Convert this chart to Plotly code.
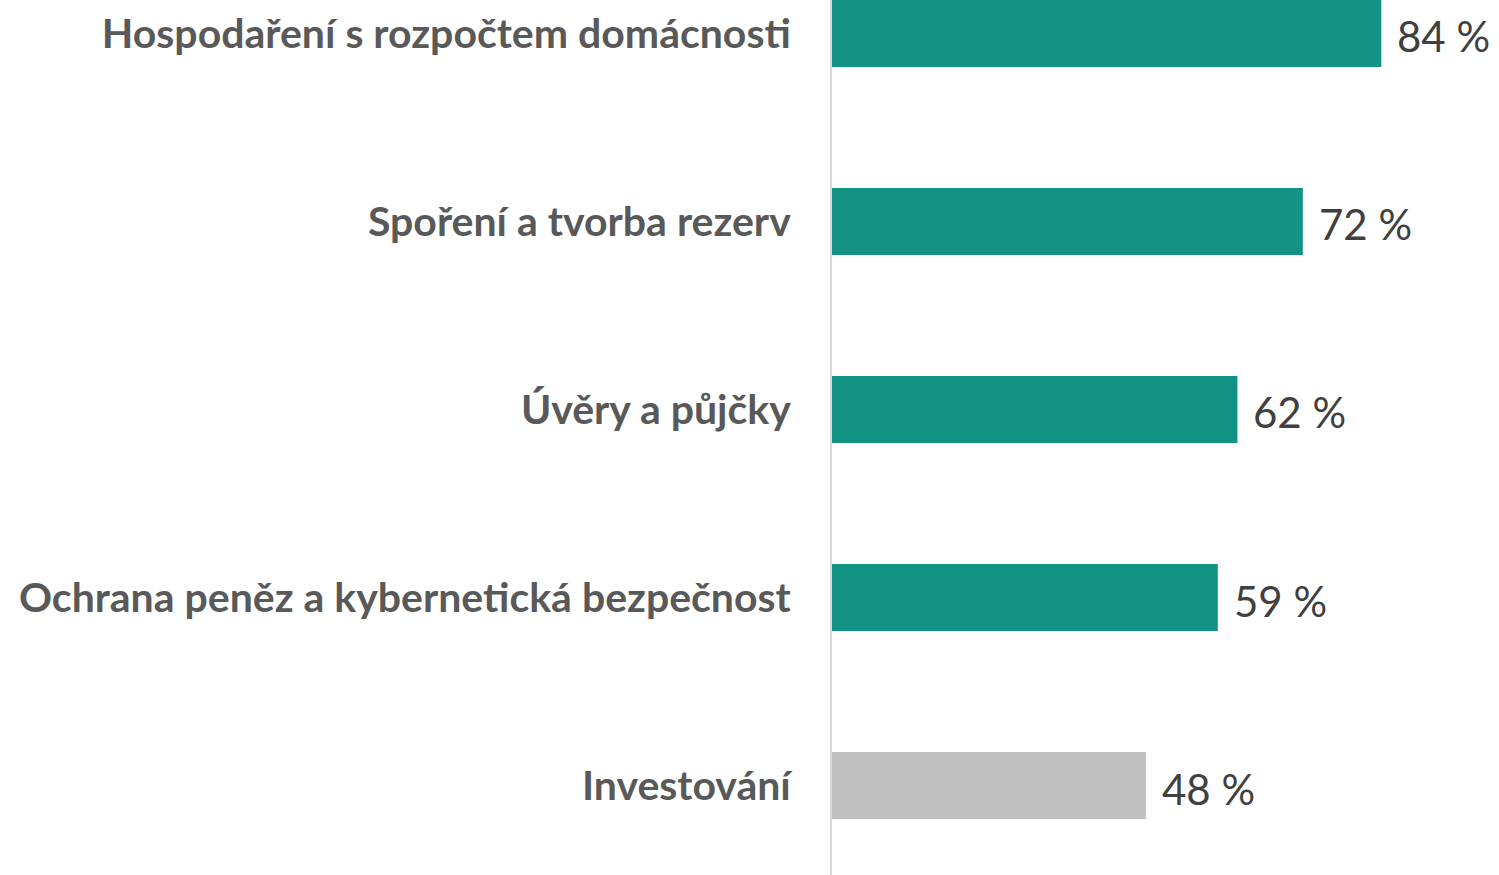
import plotly.graph_objects as go

categories = [
    "Hospodaření s rozpočtem domácnosti",
    "Spoření a tvorba rezerv",
    "Úvěry a půjčky",
    "Ochrana peněz a kybernetická bezpečnost",
    "Investování",
]
values = [84, 72, 62, 59, 48]
bar_colors = ["#139383", "#139383", "#139383", "#139383", "#BFBFBF"]

fig = go.Figure()

fig.add_trace(go.Bar(
    x=values,
    y=categories,
    orientation="h",
    marker=dict(color=bar_colors, line=dict(width=0)),
    width=0.356,
    cliponaxis=False,
    hoverinfo="none",
))

# value labels to the right of each bar
for cat, val in zip(categories, values):
    fig.add_annotation(
        x=val, y=cat,
        text=f"{val} %",
        showarrow=False,
        xanchor="left",
        yanchor="middle",
        xshift=14,
        yshift=-3,
        font=dict(family="Lato, sans-serif", size=42, color="#404040"),
    )

fig.update_layout(
    width=1499,
    height=875,
    showlegend=False,
    plot_bgcolor="white",
    paper_bgcolor="white",
    margin=dict(l=832, r=0, t=0, b=0),
    font=dict(family="Lato, sans-serif", color="#595959"),
    xaxis=dict(
        range=[0, 102],
        showgrid=False,
        zeroline=False,
        showticklabels=False,
        showline=False,
    ),
    yaxis=dict(
        type="category",
        range=[4.476, -0.178],
        showgrid=False,
        zeroline=False,
        showline=True,
        linecolor="#D9D9D9",
        linewidth=2,
        ticks="",
        ticklabelstandoff=31,
        tickfont=dict(family="Lato, sans-serif", size=41, color="#595959", weight="bold"),
    ),
)

fig.write_html(
    "out.html",
    config={"displayModeBar": False},
    post_script="document.body.style.margin='0';",
)
